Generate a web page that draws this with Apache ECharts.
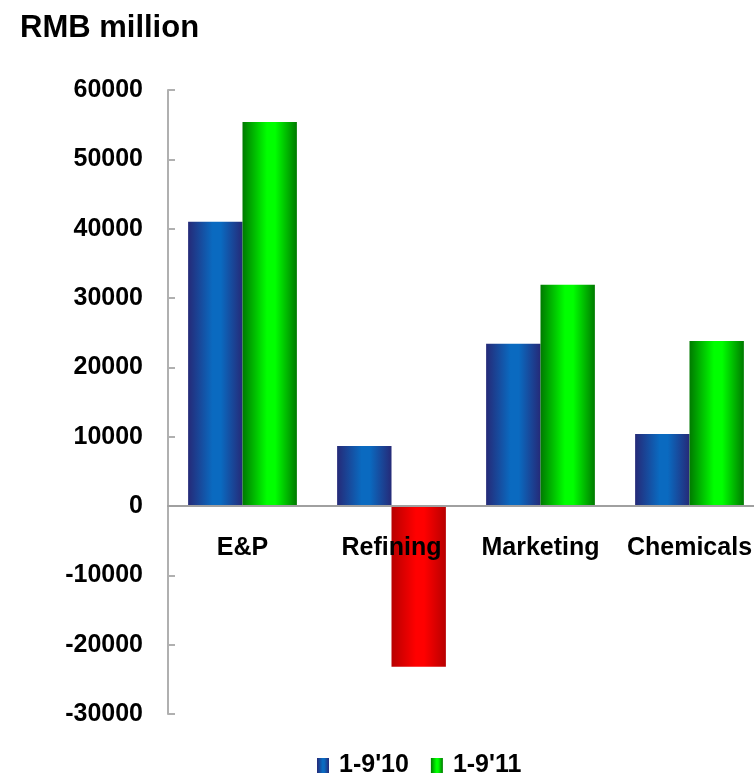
<!DOCTYPE html>
<html>
<head>
<meta charset="utf-8">
<script src="https://cdn.jsdelivr.net/npm/echarts@6/dist/echarts.min.js"></script>
<style>
	html, body { margin: 0; padding: 0; background: #fff; }
	#main { width: 754px; height: 777px; }
</style>
</head>
<body>
<div id="main"></div>
<script>
var categories = ['E&P', 'Refining', 'Marketing', 'Chemicals'];
var seriesNames = ["1-9'10", "1-9'11"];
var values2010 = [41000, 8650, 23400, 10400];
var values2011 = [55400, -23200, 31900, 23800];

function barGrad(edge, mid) {
	return new echarts.graphic.LinearGradient(0, 0, 1, 0, [{
		offset: 0, color: edge
	}, {
		offset: 0.45, color: mid
	}, {
		offset: 0.6, color: mid
	}, {
		offset: 1, color: edge
	}]);
}

var blue = barGrad('#252a78', '#0a6ac0');
var green = barGrad('#007a00', '#00ff00');
var red = barGrad('#b80000', '#ff0000');

var font = 'Liberation Sans, Arial, sans-serif';

var data2011 = values2011.map(function(v) {
	// negative results are drawn in red
	return v < 0 ? { value: v, itemStyle: { color: red } } : v;
});

var option = {
	animation: false,
	title: {
		text: 'RMB million',
		left: 15,
		top: 8,
		textStyle: { fontFamily: font, fontSize: 31, fontWeight: 'bold', color: '#000' }
	},
	legend: {
		top: 748,
		left: 312,
		icon: 'rect',
		itemWidth: 12,
		itemHeight: 15,
		itemGap: 22,
		data: seriesNames,
		textStyle: { fontFamily: font, fontSize: 25, fontWeight: 'bold', color: '#000', padding: [0, 0, 0, 5] }
	},
	grid: {
		left: 168,
		top: 90,
		bottom: 63,
		width: 596,
		outerBoundsMode: 'none',
		containLabel: false
	},
	xAxis: {
		type: 'category',
		data: categories,
		z: 10,
		offset: -208,
		axisTick: { show: false },
		axisLine: { onZero: false, lineStyle: { color: '#a0a0a0', width: 2 } },
		axisLabel: { interval: 0, margin: 30, fontFamily: font, fontSize: 25, fontWeight: 'bold', color: '#000' }
	},
	yAxis: {
		type: 'value',
		min: -30000,
		max: 60000,
		interval: 10000,
		splitLine: { show: false },
		axisLine: { show: true, lineStyle: { color: '#b0b0b0', width: 2 } },
		axisTick: { show: true, inside: true, length: 7, lineStyle: { color: '#b0b0b0', width: 2 } },
		axisLabel: {
			margin: 25, fontFamily: font, fontSize: 25, fontWeight: 'bold', color: '#000',
			formatter: function(v) { return String(v); }
		}
	},
	series: [{
		name: seriesNames[0],
		type: 'bar',
		barGap: '0%',
		barCategoryGap: '27%',
		itemStyle: { color: blue },
		data: values2010
	}, {
		name: seriesNames[1],
		type: 'bar',
		itemStyle: { color: green },
		data: data2011
	}]
};

var my = echarts.init(document.getElementById('main'));
my.setOption(option);
</script>
</body>
</html>
